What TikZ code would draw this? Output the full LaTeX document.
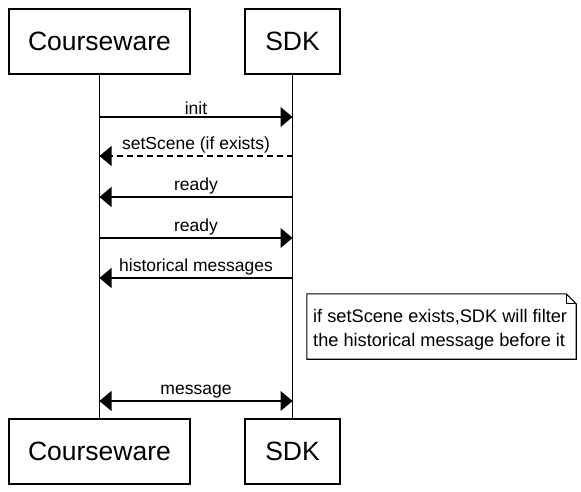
\documentclass[tikz,border=0pt]{standalone}
\usepackage{fontspec}
\setmainfont{Liberation Sans}
\usetikzlibrary{arrows.meta}
\begin{document}
\begin{tikzpicture}[x=1pt,y=-1pt,
  actorbox/.style={draw, line width=1.1pt, minimum width=#1, minimum height=65pt, inner sep=0pt, font=\fontsize{26.5}{30}\selectfont},
  lifeline/.style={line width=1.1pt},
  msg/.style={line width=1.1pt, -{Triangle[length=12pt,width=20pt]}},
  dmsg/.style={msg, dash pattern=on 6pt off 4pt},
  bmsg/.style={line width=1.1pt, {Triangle[length=12pt,width=20pt]}-{Triangle[length=12pt,width=20pt]}},
  lbl/.style={above, inner sep=1pt, yshift=1pt, font=\fontsize{17.5}{20}\selectfont},
  notetext/.style={align=left, inner sep=0pt, font=\fontsize{18.2}{24}\selectfont}
]
\useasboundingbox (0,0) rectangle (581,492);
\fill[white] (0,0) rectangle (581,492);
\node[actorbox=181pt] (cw) at (99.5,41.5) {Courseware};
\node[actorbox=95pt] (sdk) at (292.5,41.5) {SDK};
\node[actorbox=181pt] (cwb) at (99.5,451.5) {Courseware};
\node[actorbox=95pt] (sdkb) at (292.5,451.5) {SDK};
\draw[lifeline] (cw.south) -- (cwb.north);
\draw[lifeline] (sdk.south) -- (sdkb.north);
\foreach \n/\y in {1/117,2/156,3/197,4/238,5/278,6/401}{
  \coordinate (a\n) at (99.5,\y);
  \coordinate (b\n) at (292.5,\y);
}
\draw[msg] (a1) -- node[lbl]{init} (b1);
\draw[dmsg] (b2) -- node[lbl]{setScene (if exists)} (a2);
\draw[msg] (b3) -- node[lbl]{ready} (a3);
\draw[msg] (a4) -- node[lbl]{ready} (b4);
\draw[msg] (b5) -- node[lbl]{historical messages} (a5);
\draw[bmsg] (a6) -- node[lbl]{message} (b6);
\node[minimum width=269pt, minimum height=65pt, inner sep=0pt] (note) at (441.5,326.5) {};
\draw[line width=1.1pt] (note.north west) -- ([xshift=-10pt]note.north east) -- ([yshift=-10pt]note.north east) -- (note.south east) -- (note.south west) -- cycle;
\draw[line width=0.9pt] ([xshift=-10pt]note.north east) -- ([xshift=-10pt,yshift=-10pt]note.north east) -- ([yshift=-10pt]note.north east);
\node[notetext, anchor=west] (nt) at (313,330) {if setScene exists,SDK will filter\\the historical message before it};
\end{tikzpicture}
\end{document}
